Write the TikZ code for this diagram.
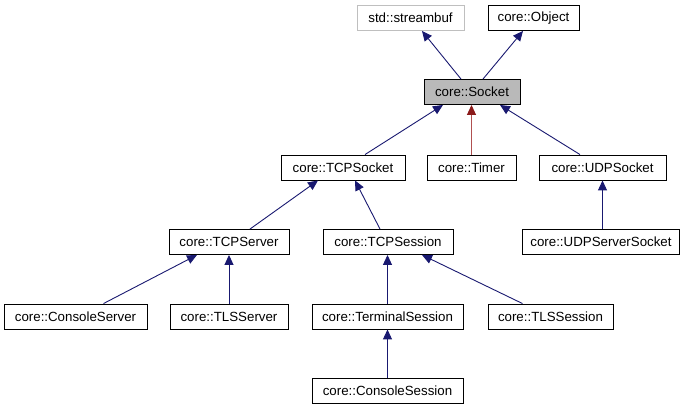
\documentclass[tikz,border=0pt]{standalone}
\usepackage{fontspec}
\setmainfont{Liberation Sans}
\usetikzlibrary{arrows.meta}
\definecolor{edgeblue}{HTML}{191970}
\definecolor{edgered}{HTML}{8B1A1A}
\definecolor{edgeredline}{HTML}{B05050}
\tikzset{
  cls/.style={draw=black, fill=white, line width=0.9pt, minimum height=25pt, inner sep=0pt, font=\fontsize{13.3}{15}\selectfont},
  inh/.style={draw=edgeblue, line width=0.9pt, -{Triangle[length=10pt,width=9pt]}},
  prot/.style={draw=edgeredline, line width=0.9pt, -{Triangle[length=10pt,width=9pt,color=edgered]}},
}
\begin{document}
\begin{tikzpicture}[x=1pt,y=-1pt]
\useasboundingbox (0,0) rectangle (689,411);
\node[cls, draw=gray!50, minimum width=107pt] (streambuf) at (410.5,18) {std::streambuf};
\node[cls, minimum width=91pt] (object) at (533.5,18) {core::Object};
\node[cls, fill=gray!55, minimum width=96pt] (socket) at (472,92) {core::Socket};
\node[cls, minimum width=124pt] (tcpsocket) at (343,167.5) {core::TCPSocket};
\node[cls, minimum width=89pt] (timer) at (471.5,167.5) {core::Timer};
\node[cls, minimum width=127pt] (udpsocket) at (602.5,167.5) {core::UDPSocket};
\node[cls, minimum width=120pt] (tcpserver) at (229,242) {core::TCPServer};
\node[cls, minimum width=130pt] (tcpsession) at (388,242) {core::TCPSession};
\node[cls, minimum width=157pt] (udpserversocket) at (601,242) {core::UDPServerSocket};
\node[cls, minimum width=143pt] (consoleserver) at (75.5,316.5) {core::ConsoleServer};
\node[cls, minimum width=118pt] (tlsserver) at (229,316.5) {core::TLSServer};
\node[cls, minimum width=151pt] (terminalsession) at (387.5,316.5) {core::TerminalSession};
\node[cls, minimum width=125pt] (tlssession) at (550.5,316.5) {core::TLSSession};
\node[cls, minimum width=151pt] (consolesession) at (387.5,391) {core::ConsoleSession};

\draw[inh] ([xshift=-11pt]socket.north) -- ([xshift=11.5pt]streambuf.south);
\draw[inh] ([xshift=11pt]socket.north) -- ([xshift=-10.5pt]object.south);
\draw[inh] ([xshift=22pt]tcpsocket.north) -- ([xshift=-29pt]socket.south);
\draw[prot] (timer.north) -- (timer.north |- socket.south);
\draw[inh] ([xshift=-22.5pt]udpsocket.north) -- ([xshift=28pt]socket.south);
\draw[inh] ([xshift=21pt]tcpserver.north) -- ([xshift=-25pt]tcpsocket.south);
\draw[inh] ([xshift=-8pt]tcpsession.north) -- ([xshift=12pt]tcpsocket.south);
\draw[inh] (udpserversocket.north -| udpsocket.south) -- (udpsocket.south);
\draw[inh] ([xshift=28pt]consoleserver.north) -- ([xshift=-32pt]tcpserver.south);
\draw[inh] (tlsserver.north) -- (tcpserver.south);
\draw[inh] (terminalsession.north) -- (terminalsession.north |- tcpsession.south);
\draw[inh] ([xshift=-28pt]tlssession.north) -- ([xshift=34pt]tcpsession.south);
\draw[inh] (consolesession.north) -- (terminalsession.south);
\end{tikzpicture}
\end{document}
